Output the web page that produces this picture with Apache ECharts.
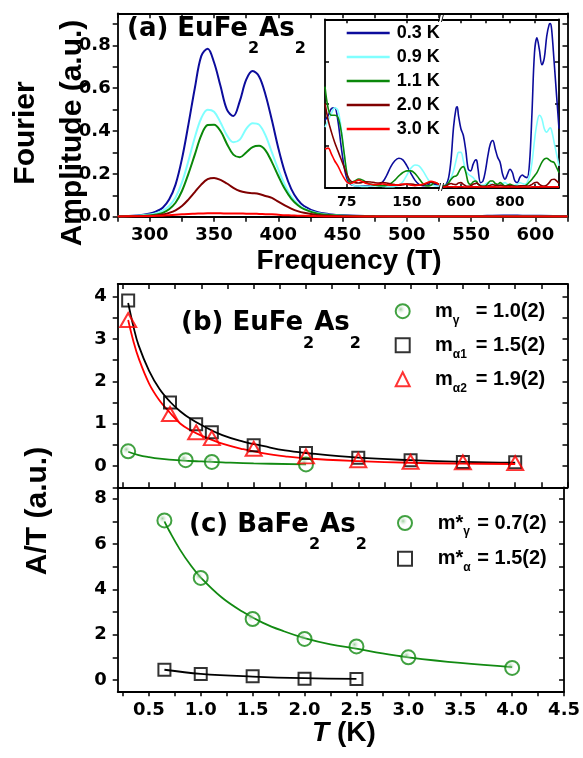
<!DOCTYPE html>
<html><head><meta charset="utf-8">
<script src="https://cdn.jsdelivr.net/npm/echarts@6/dist/echarts.min.js"></script>
<style>html,body{margin:0;padding:0;background:#fff}#c{width:583px;height:758px}</style>
</head><body><div id="c"></div>
<script>
// ---------- Panel (a) main spectra ----------
const freqA = [275,290,300,305,310,315,320,325,330,335,340,345,350,355,360,365,370,375,380,385,390,395,400,405,410,415,420,430,440,450,475,500,550,575,590,625];
const amp03 = [0.002,0.006,0.015,0.025,0.042,0.08,0.15,0.27,0.43,0.6, 0.75,0.785,0.72,0.61,0.5,0.47,0.54,0.64,0.68,0.655, 0.57,0.45,0.32,0.21,0.13,0.08,0.05,0.022,0.012,0.007, 0.003,0.002,0.002,0.006,0.005,0.002];
const amp09 = [0.002,0.005,0.01,0.016,0.028,0.05,0.09,0.16,0.26,0.37, 0.46,0.5,0.49,0.44,0.38,0.348,0.36,0.41,0.437,0.43, 0.38,0.3,0.22,0.15,0.095,0.06,0.038,0.017,0.009,0.005, 0.002,0.001,0.001,0.002,0.002,0.001];
const amp11 = [0.001,0.003,0.006,0.01,0.018,0.035,0.065,0.12,0.2,0.29, 0.38,0.428,0.43,0.4,0.34,0.29,0.278,0.3,0.325,0.331, 0.31,0.255,0.19,0.13,0.085,0.055,0.035,0.015,0.008,0.004, 0.002,0.001,0.001,0.001,0.001,0.001];
const amp20 = [0.001,0.002,0.004,0.006,0.01,0.018,0.03,0.05,0.08,0.115, 0.15,0.175,0.181,0.172,0.155,0.135,0.12,0.113,0.11,0.106, 0.097,0.088,0.07,0.053,0.038,0.026,0.018,0.008,0.004,0.002, 0.001,0.001,0.001,0.001,0.001,0.001];
const amp30 = [0.001,0.002,0.003,0.004,0.005,0.007,0.009,0.011,0.013,0.014, 0.015,0.016,0.016,0.016,0.015,0.015,0.015,0.014,0.014,0.013, 0.012,0.011,0.009,0.007,0.006,0.005,0.004,0.002,0.001,0.001, 0.001,0.001,0.001,0.001,0.001,0.001];
const tempNames = ['0.3 K','0.9 K','1.1 K','2.0 K','3.0 K'];
const tempColors = ['#0c0c9c','#80ffff','#0a880a','#800000','#ff0000'];

// ---------- Panel (a) inset (broken axis) ----------
const insetLX = [48,52,56,60,64,68,72,76,80,85,90,95,100,105,110,115,120,125,130,135,140,145,150,155,160,165,170,175,180,185,190];
const insL03 = [0.40,0.43,0.47,0.475,0.40,0.25,0.12,0.045,0.02,0.012, 0.01,0.01,0.012,0.012,0.015,0.02,0.035,0.075,0.125,0.16, 0.175,0.165,0.13,0.085,0.045,0.02,0.012,0.015,0.025,0.02, 0.01];
const insL09 = [0.36,0.40,0.44,0.475,0.46,0.36,0.2,0.07,0.025,0.012, 0.01,0.008,0.008,0.01,0.01,0.01,0.008,0.006,0.006,0.008, 0.015,0.035,0.075,0.115,0.135,0.13,0.1,0.06,0.025,0.01, 0.01];
const insL11 = [0.6,0.47,0.43,0.43,0.42,0.34,0.2,0.07,0.03,0.04, 0.052,0.045,0.03,0.02,0.015,0.012,0.012,0.015,0.025,0.045, 0.07,0.09,0.1,0.1,0.085,0.055,0.025,0.01,0.015,0.03, 0.02];
const insL20 = [0.5,0.4,0.33,0.27,0.22,0.17,0.12,0.07,0.04,0.03, 0.028,0.032,0.035,0.034,0.03,0.028,0.03,0.028,0.022,0.018, 0.015,0.018,0.022,0.022,0.018,0.015,0.018,0.025,0.032,0.028, 0.02];
const insL30 = [0.23,0.235,0.2,0.16,0.13,0.09,0.055,0.03,0.025,0.035, 0.045,0.035,0.025,0.02,0.018,0.02,0.022,0.018,0.015,0.015, 0.018,0.022,0.02,0.015,0.012,0.015,0.02,0.03,0.038,0.032, 0.02];
const insetRX = [527,540,550,560,570,580,585,590,600,610, 620,630,640,650,660,665,670,680,690,700, 710,720,730,740,750,760,770,780,790,800, 810,820,830,840,850,860,870,880,890,900, 910,920,930,940,950,960,965,970,980,990, 1000];
const insR03 = [0.01,0.02,0.06,0.17,0.36,0.47,0.48,0.43,0.35,0.31, 0.22,0.11,0.10,0.14,0.165,0.16,0.11,0.03,0.04,0.1, 0.19,0.26,0.28,0.23,0.18,0.15,0.08,0.05,0.08,0.11, 0.09,0.04,0.03,0.06,0.075,0.065,0.06,0.15,0.45,0.8, 0.89,0.82,0.73,0.77,0.9,0.97,0.975,0.94,0.75,0.55, 0.35];
const insR09 = [0.01,0.015,0.03,0.06,0.1,0.16,0.19,0.21,0.21,0.16, 0.1,0.08,0.07,0.06,0.04,0.03,0.02,0.015,0.015,0.02, 0.03,0.025,0.02,0.015,0.012,0.015,0.025,0.03,0.02,0.015, 0.012,0.015,0.02,0.03,0.025,0.02,0.03,0.07,0.15,0.28, 0.38,0.43,0.41,0.35,0.33,0.35,0.355,0.34,0.27,0.2, 0.13];
const insR11 = [0.01,0.015,0.03,0.05,0.065,0.07,0.075,0.09,0.115,0.125, 0.09,0.03,0.02,0.035,0.04,0.035,0.02,0.01,0.008,0.01, 0.025,0.04,0.04,0.025,0.02,0.03,0.02,0.01,0.015,0.02, 0.015,0.01,0.008,0.01,0.012,0.012,0.02,0.035,0.05,0.07, 0.09,0.12,0.15,0.17,0.175,0.165,0.16,0.155,0.15,0.12, 0.09];
const insR20 = [0.005,0.01,0.02,0.025,0.02,0.018,0.022,0.028,0.03,0.02, 0.01,0.008,0.012,0.02,0.025,0.028,0.022,0.012,0.008,0.008, 0.01,0.015,0.018,0.015,0.012,0.015,0.012,0.008,0.01,0.012, 0.01,0.008,0.008,0.01,0.012,0.012,0.01,0.012,0.02,0.03, 0.032,0.02,0.012,0.01,0.015,0.03,0.04,0.048,0.05,0.04, 0.025];
const insR30 = [0.004,0.005,0.006,0.006,0.005,0.005,0.005,0.006,0.006,0.005, 0.004,0.004,0.005,0.005,0.005,0.005,0.005,0.004,0.004,0.004, 0.005,0.005,0.005,0.005,0.004,0.004,0.004,0.004,0.004,0.004, 0.004,0.004,0.004,0.004,0.004,0.004,0.004,0.004,0.005,0.005, 0.005,0.005,0.005,0.005,0.005,0.005,0.005,0.005,0.005,0.005, 0.005];

// ---------- Panel (b) EuFe2As2 A/T ----------
const bGammaT = [0.3,0.85,1.1,2.0];
const bGammaA = [0.35,0.14,0.10,0.04];
const bAlpha1T = [0.3,0.7,0.95,1.1,1.5,2.0,2.5,3.0,3.5,4.0];
const bAlpha1A = [3.91,1.5,0.99,0.8,0.49,0.31,0.2,0.14,0.1,0.09];
const bAlpha2T = [0.3,0.7,0.95,1.1,1.5,2.0,2.5,3.0,3.5,4.0];
const bAlpha2A = [3.45,1.23,0.8,0.66,0.41,0.23,0.14,0.1,0.09,0.07];
const fitBT = [0.3,0.35,0.4,0.5,0.6,0.7,0.8,0.9,1.0,1.2,1.4,1.6,1.8,2.0,2.5,3.0,3.5,4.0];
const fitBAlpha1 = [3.85,3.3,2.85,2.25,1.82,1.52,1.29,1.11,0.97,0.73,0.58,0.47,0.37,0.31,0.2,0.14,0.1,0.08];
const fitBAlpha2 = [3.45,2.95,2.55,1.95,1.55,1.26,1.0,0.84,0.72,0.53,0.4,0.3,0.23,0.18,0.12,0.08,0.06,0.05];
const fitBGammaT = [0.3,0.4,0.5,0.6,0.8,1.0,1.2,1.5,2.0];
const fitBGamma = [0.34,0.26,0.21,0.175,0.135,0.11,0.09,0.065,0.04];

// ---------- Panel (c) BaFe2As2 A/T ----------
const cGammaT = [0.65,1.0,1.5,2.0,2.5,3.0,4.0];
const cGammaA = [7.04,4.5,2.69,1.81,1.48,1.0,0.53];
const cAlphaT = [0.65,1.0,1.5,2.0,2.5];
const cAlphaA = [0.45,0.26,0.16,0.05,0.04];
const fitCGammaT = [0.65,0.7,0.8,0.9,1.0,1.2,1.4,1.6,1.8,2.0,2.25,2.5,2.75,3.0,3.5,4.0];
const fitCGamma = [7.0,6.55,5.75,5.08,4.52,3.65,3.02,2.52,2.15,1.85,1.57,1.38,1.17,1.0,0.75,0.57];
const fitCAlphaT = [0.65,1.0,1.5,2.0,2.5];
const fitCAlpha = [0.45,0.27,0.15,0.08,0.05];

// ---------- Legend texts ----------
const legendBNames = ['mγ','mα1','mα2'];
const legendBSubs = ['γ','α1','α2'];
const legendBVals = ['= 1.0(2)','= 1.5(2)','= 1.9(2)'];
const legendCNames = ['m*γ','m*α'];
const legendCSubs = ['γ','α'];
const legendCVals = ['= 0.7(2)','= 1.5(2)'];

// ---------- Ticks / labels ----------
const ticksAX = [275,300,325,350,375,400,425,450,475,500,525,550,575,600,625];
const labelsAX = [300,350,400,450,500,550,600];
const ticksAY = [0,0.1,0.2,0.3,0.4,0.5,0.6,0.7,0.8,0.9];
const labelsAY = [0,0.2,0.4,0.6,0.8];
const ticksInsetL = [75,150];
const ticksInsetR = [600,700,800,900];
const labelsInsetR = [600,800];
const ticksInsetY = [0.25,0.5,0.75];
const ticksTX = [0.25,0.5,0.75,1.0,1.25,1.5,1.75,2.0,2.25,2.5,2.75,3.0,3.25,3.5,3.75,4.0,4.25,4.5];
const labelsTX = [0.5,1.0,1.5,2.0,2.5,3.0,3.5,4.0,4.5];
const ticksBY = [-0.5,0,0.5,1,1.5,2,2.5,3,3.5,4];
const labelsBY = [0,1,2,3,4];
const ticksCY = [0,1,2,3,4,5,6,7,8];
const labelsCY = [0,2,4,6,8];

const zip = (xs, ys) => xs.map((x, i) => [x, ys[i]]);
const SANS = '"Liberation Sans", Arial, sans-serif';
const TICKFONT = {fontFamily:'"DejaVu Sans", sans-serif', fontWeight:'bold', fontSize:18, color:'#000'};
const LINE = {show:true, onZero:false, lineStyle:{color:'#000', width:1.8}};

function ax(o) {
  const base = {type:'value', axisLine:LINE, splitLine:{show:false}, minorTick:{show:false}};
  return Object.assign(base, o);
}
function tick(vals, inside, len) {
  return {show:true, inside:inside, length:len || 5, customValues:vals, lineStyle:{color:'#000', width:1.5}};
}
const noLab = {show:false};

const chart = echarts.init(document.getElementById('c'), null, {renderer:'canvas'});

const mainAmps = [amp03, amp09, amp11, amp20, amp30];
const insL = [insL03, insL09, insL11, insL20, insL30];
const insR = [insR03, insR09, insR11, insR20, insR30];

const series = [];
tempNames.forEach((n, i) => {
  series.push({type:'line', name:n, xAxisIndex:0, yAxisIndex:0, data:zip(freqA, mainAmps[i]), smooth:0.35,
    symbol:'none', lineStyle:{width:2, color:tempColors[i]}, itemStyle:{color:tempColors[i]}, z:3});
});
tempNames.forEach((n, i) => {
  series.push({type:'line', name:n, xAxisIndex:2, yAxisIndex:2, data:zip(insetLX, insL[i]), smooth:0.35,
    symbol:'none', lineStyle:{width:1.6, color:tempColors[i]}, itemStyle:{color:tempColors[i]}, z:5});
  series.push({type:'line', name:n, xAxisIndex:4, yAxisIndex:3, data:zip(insetRX, insR[i]), smooth:0.35,
    symbol:'none', lineStyle:{width:1.6, color:tempColors[i]}, itemStyle:{color:tempColors[i]}, z:5});
});

const GREEN = '#128a12';
const circleFill = {type:'radial', x:0.38, y:0.38, r:0.32,
  colorStops:[{offset:0, color:'rgba(110,185,110,0.85)'},{offset:1, color:'rgba(255,255,255,0)'}]};
const fitLine = (xa, ya, xs, ys, c) => ({type:'line', xAxisIndex:xa, yAxisIndex:ya, data:zip(xs, ys), smooth:0.4,
  symbol:'none', lineStyle:{width:1.8, color:c}, itemStyle:{color:c}, z:3, silent:true});

// panel (b)
series.push(fitLine(6, 4, fitBGammaT, fitBGamma, GREEN));
series.push(fitLine(6, 4, fitBT, fitBAlpha1, '#000'));
series.push(fitLine(6, 4, fitBT, fitBAlpha2, '#ff0000'));
series.push({type:'scatter', name:legendBNames[0], xAxisIndex:6, yAxisIndex:4, data:zip(bGammaT, bGammaA),
  symbol:'circle', symbolSize:14, itemStyle:{color:circleFill, borderColor:GREEN, borderWidth:2}, z:4});
series.push({type:'scatter', name:legendBNames[1], xAxisIndex:6, yAxisIndex:4, data:zip(bAlpha1T, bAlpha1A),
  symbol:'rect', symbolSize:12, itemStyle:{color:'rgba(255,255,255,0)', borderColor:'#000', borderWidth:2}, z:4});
series.push({type:'scatter', name:legendBNames[2], xAxisIndex:6, yAxisIndex:4, data:zip(bAlpha2T, bAlpha2A),
  symbol:'triangle', symbolSize:[16,14], itemStyle:{color:'rgba(255,255,255,0)', borderColor:'#ff0000', borderWidth:2}, z:4});
// panel (c)
series.push(fitLine(8, 6, fitCGammaT, fitCGamma, GREEN));
series.push(fitLine(8, 6, fitCAlphaT, fitCAlpha, '#000'));
series.push({type:'scatter', name:legendCNames[0], xAxisIndex:8, yAxisIndex:6, data:zip(cGammaT, cGammaA),
  symbol:'circle', symbolSize:14, itemStyle:{color:circleFill, borderColor:GREEN, borderWidth:2}, z:4});
series.push({type:'scatter', name:legendCNames[1], xAxisIndex:8, yAxisIndex:6, data:zip(cAlphaT, cAlphaA),
  symbol:'rect', symbolSize:12, itemStyle:{color:'rgba(255,255,255,0)', borderColor:'#000', borderWidth:2}, z:4});

const legRich = (padL, subW) => ({
  m:{fontFamily:SANS, fontSize:20, fontWeight:'bold', color:'#000', lineHeight:24, padding:[0,0,0,padL]},
  s:{fontFamily:SANS, fontSize:12, fontWeight:'bold', color:'#000', lineHeight:13, padding:[18,0,0,0], width:subW},
  e:{fontFamily:SANS, fontSize:20, fontWeight:'bold', color:'#000', lineHeight:24}
});
const titleRich = {
  t:{fontFamily:'"DejaVu Sans", sans-serif', fontSize:26, fontWeight:'bold', color:'#000', lineHeight:30, padding:[0,0,20,0]},
  s:{fontFamily:'"DejaVu Sans", sans-serif', fontSize:16, fontWeight:'bold', color:'#000', lineHeight:16, padding:[20,0,0,0]}
};

const option = {
  animation:false,
  backgroundColor:'#fff',
  grid:[
    {left:117.7, top:13.3, width:449.8, height:203.4},
    {left:325, top:19.3, width:114, height:168.4, show:true, backgroundColor:'#fff', borderWidth:0},
    {left:443, top:19.3, width:116, height:168.4, show:true, backgroundColor:'#fff', borderWidth:0},
    {left:117.7, top:284, width:449.8, height:203.3},
    {left:117.7, top:487.3, width:449.8, height:204}
  ],
  xAxis:[
    ax({gridIndex:0, min:275, max:625, position:'bottom', axisTick:tick(ticksAX,false), axisLabel:Object.assign({customValues:labelsAX, margin:10}, TICKFONT)}),
    ax({gridIndex:0, min:275, max:625, position:'top', axisTick:tick(ticksAX,true), axisLabel:noLab}),
    ax({gridIndex:1, min:48, max:190, position:'bottom', axisTick:tick(ticksInsetL,true,4), axisLabel:Object.assign({customValues:ticksInsetL, margin:8}, TICKFONT, {fontSize:14})}),
    ax({gridIndex:1, min:48, max:190, position:'top', axisTick:tick(ticksInsetL,true,4), axisLabel:noLab}),
    ax({gridIndex:2, min:527, max:1000, position:'bottom', axisTick:tick(ticksInsetR,true,4), axisLabel:Object.assign({customValues:labelsInsetR, margin:8}, TICKFONT, {fontSize:14})}),
    ax({gridIndex:2, min:527, max:1000, position:'top', axisTick:tick(ticksInsetR,true,4), axisLabel:noLab}),
    ax({gridIndex:3, min:0.2, max:4.5, position:'bottom', axisTick:tick(ticksTX,true), axisLabel:noLab}),
    ax({gridIndex:3, min:0.2, max:4.5, position:'top', axisTick:tick(ticksTX,true), axisLabel:noLab}),
    ax({gridIndex:4, min:0.2, max:4.5, position:'bottom', axisTick:tick(ticksTX,false), axisLabel:Object.assign({customValues:labelsTX, margin:10, formatter:v => Number(v).toFixed(1)}, TICKFONT)}),
    ax({gridIndex:4, min:0.2, max:4.5, position:'top', axisTick:{show:false}, axisLabel:noLab})
  ],
  yAxis:[
    ax({gridIndex:0, min:0, max:0.95, position:'left', axisTick:tick(ticksAY,false), axisLabel:Object.assign({customValues:labelsAY, margin:7, formatter:v => Number(v).toFixed(1)}, TICKFONT)}),
    ax({gridIndex:0, min:0, max:0.95, position:'right', axisTick:tick(ticksAY,true), axisLabel:noLab}),
    ax({gridIndex:1, min:0, max:1.0, position:'left', axisTick:tick(ticksInsetY,true,4), axisLabel:noLab}),
    ax({gridIndex:2, min:0, max:1.0, position:'right', axisTick:tick(ticksInsetY,true,4), axisLabel:noLab}),
    ax({gridIndex:3, min:-0.5, max:4.3, position:'left', axisTick:tick(ticksBY,false), axisLabel:Object.assign({customValues:labelsBY, margin:11}, TICKFONT)}),
    ax({gridIndex:3, min:-0.5, max:4.3, position:'right', axisTick:tick(ticksBY,true), axisLabel:noLab}),
    ax({gridIndex:4, min:-0.5, max:8.5, position:'left', axisTick:tick(ticksCY,false), axisLabel:Object.assign({customValues:labelsCY, margin:11}, TICKFONT)}),
    ax({gridIndex:4, min:-0.5, max:8.5, position:'right', axisTick:tick(ticksCY,true), axisLabel:noLab})
  ],
  legend:[
    {data:tempNames, left:346.7, top:23, padding:0, orient:'vertical', icon:'rect', itemWidth:43, itemHeight:2.5, itemGap:4,
     itemStyle:{borderWidth:0}, selectedMode:false,
     textStyle:{fontFamily:SANS, fontSize:18, fontWeight:'bold', color:'#000', lineHeight:20, padding:[0,0,0,2]}},
    {data:legendBNames, left:394.7, top:296.2, padding:0, orient:'vertical', itemWidth:14, itemHeight:14, itemGap:4,
     itemStyle:{borderWidth:2}, selectedMode:false,
     formatter:name => { const i = legendBNames.indexOf(name); return '{m|m}{s|' + legendBSubs[i] + '}{e|' + legendBVals[i] + '}'; },
     textStyle:{rich:legRich(20.3, 23)}},
    {data:legendCNames, left:397, top:508, padding:0, orient:'vertical', itemWidth:14, itemHeight:14, itemGap:5.7,
     itemStyle:{borderWidth:2}, selectedMode:false,
     formatter:name => { const i = legendCNames.indexOf(name); return '{m|m*}{s|' + legendCSubs[i] + '}{e|' + legendCVals[i] + '}'; },
     textStyle:{rich:legRich(20.7, 14)}}
  ],
  title:[
    {text:'{t|(a) EuFe}{s|2}{t|As}{s|2}', left:127, top:24.2, padding:0, textStyle:{rich:titleRich}},
    {text:'{t|(b) EuFe}{s|2}{t|As}{s|2}', left:181, top:318.4, padding:0, textStyle:{rich:titleRich}},
    {text:'{t|(c) BaFe}{s|2}{t|As}{s|2}', left:189, top:520, padding:0, textStyle:{rich:titleRich}}
  ],
  graphic:[
    {type:'text', x:26, y:133, rotation:Math.PI/2, style:{text:'Fourier', font:'bold 30px ' + SANS, textAlign:'center', textVerticalAlign:'middle', fill:'#000'}},
    {type:'text', x:72.5, y:133, rotation:Math.PI/2, style:{text:'Amplitude (a.u.)', font:'bold 30px ' + SANS, textAlign:'center', textVerticalAlign:'middle', fill:'#000'}},
    {type:'text', x:349, y:261, style:{text:'Frequency (T)', font:'bold 28px ' + SANS, textAlign:'center', textVerticalAlign:'middle', fill:'#000'}},
    {type:'text', x:37.5, y:511, rotation:Math.PI/2, style:{text:'A/T (a.u.)', font:'bold 30px ' + SANS, textAlign:'center', textVerticalAlign:'middle', fill:'#000'}},
    {type:'text', x:344, y:733, style:{text:'{i|T}{n| (K)}', textAlign:'center', textVerticalAlign:'middle', fill:'#000',
      rich:{i:{fontFamily:SANS, fontSize:28, fontWeight:'bold', fontStyle:'italic', fill:'#000'}, n:{fontFamily:SANS, fontSize:28, fontWeight:'bold', fill:'#000'}}}},
    {type:'text', x:441, y:19, z:10, style:{text:'//', font:'11px ' + SANS, textAlign:'center', textVerticalAlign:'middle', fill:'#000'}},
    {type:'text', x:441, y:188, z:10, style:{text:'//', font:'11px ' + SANS, textAlign:'center', textVerticalAlign:'middle', fill:'#000'}}
  ],
  series:series
};
chart.setOption(option);
</script>
</body></html>
